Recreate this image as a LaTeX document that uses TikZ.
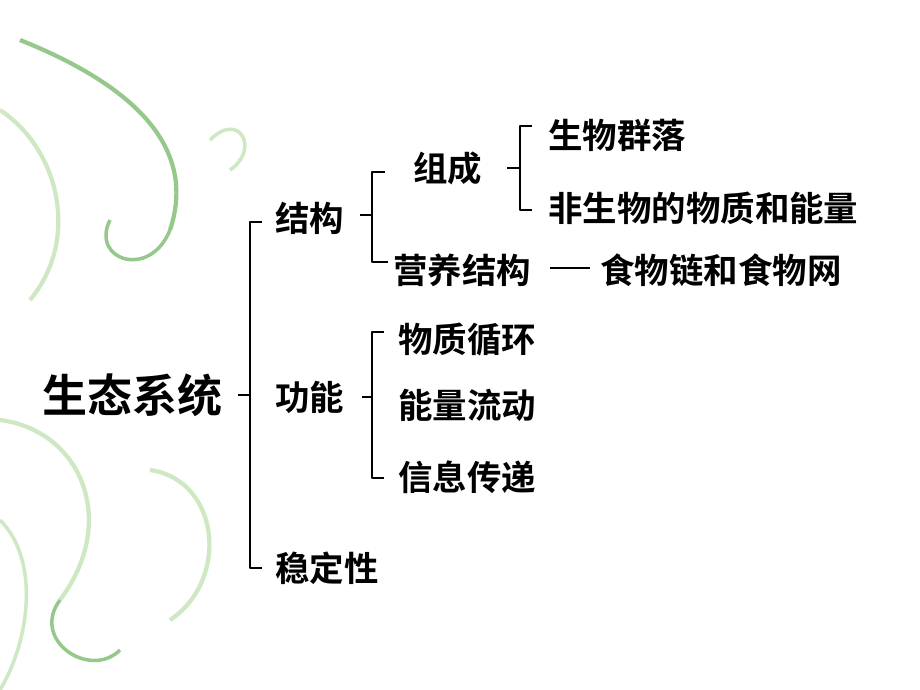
\documentclass[tikz,border=0pt]{standalone}
\usepackage{fontspec}
\newfontfamily\cjk{Noto Sans CJK SC}[BoldFont={Noto Sans CJK SC Bold}]
\definecolor{vine}{RGB}{150,200,140}
\definecolor{vinelight}{RGB}{205,232,195}
\tikzset{
    lbl/.style={font=\cjk\bfseries\fontsize{24.5}{28}\selectfont, inner sep=0pt, anchor=west},
    big/.style={font=\cjk\bfseries\fontsize{32}{36}\selectfont, inner sep=0pt, anchor=west},
    brk/.style={line width=1.8pt, line join=round}
}
\begin{document}
\begin{tikzpicture}[x=0.025cm, y=-0.025cm]
    \useasboundingbox (0,0) rectangle (920,690);
    \fill[white] (0,0) rectangle (920,690);

    % vine ornaments on the left
    \draw[vine, line width=3pt] (20,40) .. controls (120,80) and (200,140) .. (170,230);
    \draw[vine, line width=2.5pt] (170,230) .. controls (150,280) and (90,260) .. (110,220);
    \draw[vinelight, line width=3pt] (0,110) .. controls (60,150) and (80,240) .. (30,300);
    \draw[vinelight, line width=2.5pt] (210,140) .. controls (240,110) and (260,150) .. (230,170);
    \draw[vinelight, line width=3pt] (0,420) .. controls (80,430) and (120,520) .. (60,600);
    \draw[vine, line width=2.5pt] (60,600) .. controls (30,640) and (90,680) .. (120,650);
    \draw[vinelight, line width=3pt] (150,470) .. controls (220,480) and (230,580) .. (170,620);
    \draw[vinelight, line width=2.5pt] (0,520) .. controls (40,560) and (30,640) .. (0,690);

    % texts
    \node[big] (eco) at (42,395) {生态系统};
    \node[lbl] (jg) at (275,218) {结构};
    \node[lbl] (gn) at (275,397) {功能};
    \node[lbl] (wd) at (275,568) {稳定性};
    \node[lbl] (zc) at (413,168) {组成};
    \node[lbl] (yy) at (393,270) {营养结构};
    \node[lbl] (sw) at (600,270) {食物链和食物网};
    \node[lbl] (sq) at (548,135) {生物群落};
    \node[lbl] (fs) at (548,208) {非生物的物质和能量};
    \node[lbl] (wz) at (398,340) {物质循环};
    \node[lbl] (nl) at (398,405) {能量流动};
    \node[lbl] (xx) at (398,477) {信息传递};

    % brackets
    \draw[brk] (262,222) -- (250,222) -- (250,568) -- (262,568);
    \draw[brk] (250,395) -- (238,395);
    \draw[brk] (385,172) -- (372,172) -- (372,262) -- (388,262);
    \draw[brk] (372,215) -- (360,215);
    \draw[brk] (532,126) -- (520,126) -- (520,210) -- (532,210);
    \draw[brk] (520,168) -- (507,168);
    \draw[brk] (384,332) -- (372,332) -- (372,478) -- (384,478);
    \draw[brk] (372,397) -- (362,397);
    \draw[line width=1.8pt] (550,268) -- (590,268);
\end{tikzpicture}
\end{document}
